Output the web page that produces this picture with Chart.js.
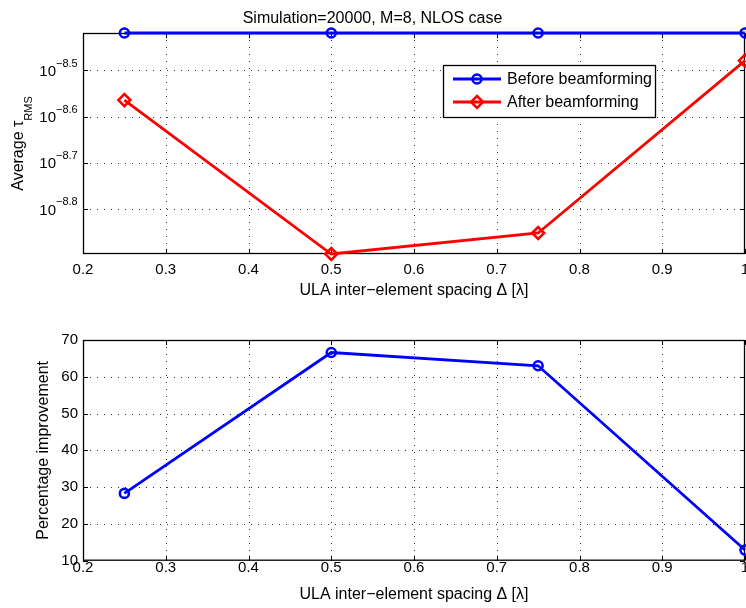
<!DOCTYPE html>
<html>
<head>
<meta charset="utf-8">
<script src="https://cdn.jsdelivr.net/npm/chart.js@4.4.0/dist/chart.umd.min.js"></script>
<style>
  body { margin: 0; background: #fff; }
  #wrap { position: relative; width: 746px; height: 608px; }
  canvas { position: absolute; left: 0; }
</style>
</head>
<body>
<div id="wrap">
  <canvas id="topChart" width="746" height="300" style="top:0"></canvas>
  <canvas id="bottomChart" width="746" height="308" style="top:300px"></canvas>
</div>
<script>
// values
const spacing = [0.25, 0.5, 0.75, 1];
const tauBefore = [3.81e-9, 3.81e-9, 3.81e-9, 3.81e-9];
const tauAfter = [2.73e-9, 1.27e-9, 1.41e-9, 3.32e-9];
const improvement = [28.3, 66.6, 63.0, 12.9];

const xTicks = [0.2, 0.3, 0.4, 0.5, 0.6, 0.7, 0.8, 0.9, 1];
const tauExpTicks = [-8.8, -8.7, -8.6, -8.5];
const improvementTicks = [10, 20, 30, 40, 50, 60, 70];

const FONT = '"Liberation Sans", Arial, Helvetica, sans-serif';
Chart.defaults.font.family = FONT;
Chart.defaults.color = '#000';

function toPoints(ys) {
    return spacing.map((x, i) => ({ x: x, y: ys[i] }));
}

function minus(s) {
    return String(s).replace('-', '\u2212');
}

// grid, box and inner tick marks like matlab
const frame = {
    id: 'frame',
    beforeDatasetsDraw(chart) {
        const { ctx, chartArea: a, scales: { x, y } } = chart;
        ctx.save();
        ctx.lineWidth = 1;
        ctx.strokeStyle = '#333';
        ctx.setLineDash([1, 6]);
        x.ticks.forEach(t => {
            const px = Math.round(x.getPixelForValue(t.value)) + 0.5;
            if (px < a.left + 2 || px > a.right - 2) return;
            ctx.beginPath();
            ctx.moveTo(px, a.top);
            ctx.lineTo(px, a.bottom);
            ctx.stroke();
        });
        y.ticks.forEach(t => {
            const py = Math.round(y.getPixelForValue(t.value)) + 0.5;
            if (py < a.top + 2 || py > a.bottom - 2) return;
            ctx.beginPath();
            ctx.moveTo(a.left, py);
            ctx.lineTo(a.right, py);
            ctx.stroke();
        });
        ctx.setLineDash([]);
        ctx.strokeStyle = '#000';
        const tl = 5;
        x.ticks.forEach(t => {
            const px = Math.round(x.getPixelForValue(t.value)) + 0.5;
            ctx.beginPath();
            ctx.moveTo(px, a.bottom);
            ctx.lineTo(px, a.bottom - tl);
            ctx.moveTo(px, a.top);
            ctx.lineTo(px, a.top + tl);
            ctx.stroke();
        });
        y.ticks.forEach(t => {
            const py = Math.round(y.getPixelForValue(t.value)) + 0.5;
            ctx.beginPath();
            ctx.moveTo(a.left, py);
            ctx.lineTo(a.left + tl, py);
            ctx.moveTo(a.right, py);
            ctx.lineTo(a.right - tl, py);
            ctx.stroke();
        });
        ctx.lineWidth = 1.3;
        ctx.strokeRect(a.left + 0.5, a.top + 0.5, a.right - a.left - 1, a.bottom - a.top - 1);
        ctx.restore();
    }
};

// log tick labels as 10^e and the y title with subscript
const tauLabels = {
    id: 'tauLabels',
    afterDraw(chart) {
        const { ctx, chartArea: a, scales: { y } } = chart;
        ctx.save();
        ctx.fillStyle = '#000';
        y.ticks.forEach(t => {
            const py = y.getPixelForValue(t.value);
            const e = Math.log10(t.value).toFixed(1);
            ctx.font = '15px ' + FONT;
            ctx.textAlign = 'right';
            ctx.textBaseline = 'middle';
            ctx.fillText('10', 56, py + 1);
            ctx.font = '11px ' + FONT;
            ctx.textAlign = 'left';
            ctx.fillText(minus(e), 56, py - 7);
        });

        ctx.translate(0, (a.top + a.bottom) / 2);
        ctx.rotate(-Math.PI / 2);
        ctx.textBaseline = 'alphabetic';
        ctx.textAlign = 'left';
        ctx.font = '16px ' + FONT;
        const main = 'Average \u03c4';
        const w1 = ctx.measureText(main).width;
        ctx.font = '11px ' + FONT;
        const w2 = ctx.measureText('RMS').width;
        const x0 = -(w1 + w2) / 2;
        ctx.font = '16px ' + FONT;
        ctx.fillText(main, x0, 23);
        ctx.font = '11px ' + FONT;
        ctx.fillText('RMS', x0 + w1, 32);
        ctx.restore();
    }
};

// legend box inside the top axes
const boxLegend = {
    id: 'boxLegend',
    afterDraw(chart) {
        const { ctx } = chart;
        const bx = 443, by = 65, bw = 212, bh = 52;
        ctx.save();
        ctx.fillStyle = '#fff';
        ctx.fillRect(bx, by, bw, bh);
        ctx.strokeStyle = '#000';
        ctx.lineWidth = 1.3;
        ctx.strokeRect(bx + 0.5, by + 0.5, bw, bh);
        chart.data.datasets.forEach((ds, i) => {
            const ry = 79 + i * 23;
            ctx.strokeStyle = ds.borderColor;
            ctx.lineWidth = ds.borderWidth;
            ctx.beginPath();
            ctx.moveTo(453, ry);
            ctx.lineTo(501, ry);
            ctx.stroke();
            ctx.lineWidth = ds.pointBorderWidth;
            ctx.beginPath();
            if (ds.pointStyle === 'circle') {
                ctx.arc(477, ry, ds.pointRadius, 0, Math.PI * 2);
            } else {
                const r = ds.pointRadius;
                ctx.moveTo(477, ry - r);
                ctx.lineTo(477 + r, ry);
                ctx.lineTo(477, ry + r);
                ctx.lineTo(477 - r, ry);
                ctx.closePath();
            }
            ctx.stroke();
            ctx.fillStyle = '#000';
            ctx.font = '16px ' + FONT;
            ctx.textAlign = 'left';
            ctx.textBaseline = 'middle';
            ctx.fillText(ds.label, 507, ry + 1);
        });
        ctx.restore();
    }
};

function xScale(tickPad, titlePad, height) {
    return {
        type: 'linear',
        min: 0.2,
        max: 1,
        afterBuildTicks: s => { s.ticks = xTicks.map(v => ({ value: v })); },
        afterFit: s => { s.height = height; s.paddingLeft = 0; s.paddingRight = 0; },
        grid: { display: false, drawTicks: false },
        border: { display: false },
        ticks: {
            padding: tickPad,
            font: { size: 15 },
            maxRotation: 0,
            callback: v => String(v)
        },
        title: {
            display: true,
            text: 'ULA inter\u2212element spacing \u0394 [\u03bb]',
            font: { size: 16 },
            padding: { top: 0, bottom: titlePad }
        }
    };
}

const lineStyle = {
    borderWidth: 2.8,
    pointBorderWidth: 2.6,
    pointBackgroundColor: 'rgba(0,0,0,0)',
    tension: 0,
    clip: false
};

new Chart(document.getElementById('topChart'), {
    type: 'line',
    data: {
        datasets: [
            Object.assign({
                label: 'Before beamforming',
                data: toPoints(tauBefore),
                borderColor: '#0000ff',
                pointBorderColor: '#0000ff',
                pointStyle: 'circle',
                pointRadius: 4.5
            }, lineStyle),
            Object.assign({
                label: 'After beamforming',
                data: toPoints(tauAfter),
                borderColor: '#ff0000',
                pointBorderColor: '#ff0000',
                pointStyle: 'rectRot',
                pointRadius: 6
            }, lineStyle)
        ]
    },
    options: {
        responsive: false,
        animation: false,
        devicePixelRatio: 1,
        layout: { autoPadding: false, padding: { top: 0, right: 1, left: 0, bottom: 0 } },
        plugins: {
            legend: { display: false },
            tooltip: { enabled: false },
            title: {
                display: true,
                text: 'Simulation=20000, M=8, NLOS case',
                font: { size: 16, weight: 'normal' },
                padding: { top: 8.5, bottom: 5.3 }
            }
        },
        scales: {
            x: xScale(7, 0, 46),
            y: {
                type: 'logarithmic',
                min: Math.min(...tauAfter),
                max: Math.max(...tauBefore),
                afterBuildTicks: s => { s.ticks = tauExpTicks.map(e => ({ value: Math.pow(10, e) })); },
                afterFit: s => { s.width = 83; },
                grid: { display: false, drawTicks: false },
                border: { display: false },
                ticks: { display: false }
            }
        }
    },
    plugins: [frame, tauLabels, boxLegend]
});

new Chart(document.getElementById('bottomChart'), {
    type: 'line',
    data: {
        datasets: [
            Object.assign({
                label: 'Percentage improvement',
                data: toPoints(improvement),
                borderColor: '#0000ff',
                pointBorderColor: '#0000ff',
                pointStyle: 'circle',
                pointRadius: 4.5
            }, lineStyle)
        ]
    },
    options: {
        responsive: false,
        animation: false,
        devicePixelRatio: 1,
        layout: { autoPadding: false, padding: { top: 40, right: 1, left: 0, bottom: 0 } },
        plugins: {
            legend: { display: false },
            tooltip: { enabled: false }
        },
        scales: {
            x: xScale(-2, 3.5, 47.3),
            y: {
                type: 'linear',
                min: 10,
                max: 70,
                afterBuildTicks: s => { s.ticks = improvementTicks.map(v => ({ value: v })); },
                afterFit: s => { s.width = 83; },
                grid: { display: false, drawTicks: false },
                border: { display: false },
                ticks: { padding: 5, font: { size: 15 } },
                title: {
                    display: true,
                    text: 'Percentage improvement',
                    font: { size: 16 },
                    padding: { top: 34, bottom: 0 }
                }
            }
        }
    },
    plugins: [frame]
});
</script>
</body>
</html>
